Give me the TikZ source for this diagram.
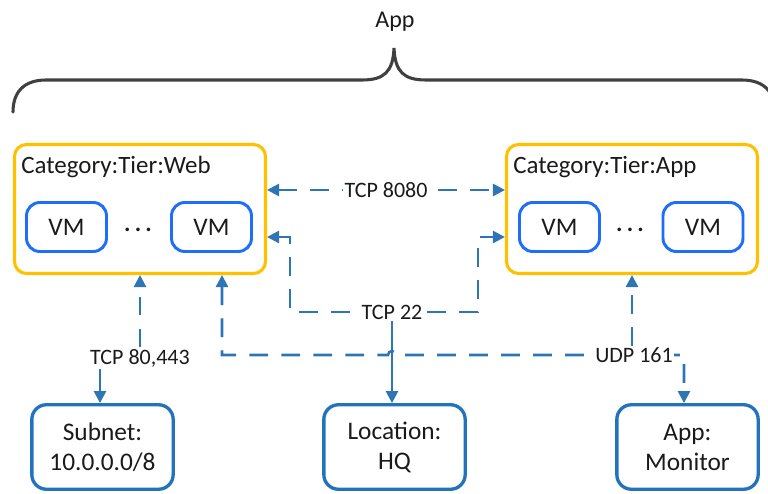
\documentclass[tikz,border=0pt]{standalone}
\usepackage{fontspec}
\setmainfont{Carlito}
\usetikzlibrary{arrows.meta}
\definecolor{tieryellow}{HTML}{FFC000}
\definecolor{vmblue}{HTML}{1E6EFA}
\definecolor{linkblue}{HTML}{2E75B6}
\definecolor{boxblue}{HTML}{2373BC}
\definecolor{ink}{HTML}{1A1A1A}
\definecolor{bracegray}{HTML}{404040}
\begin{document}
\begin{tikzpicture}[x=0.75pt,y=-0.75pt,
  >={Triangle[length=9pt,width=9pt]},
  tier/.style={draw=tieryellow, line width=2.3pt, rounded corners=9pt, minimum width=188.25pt, minimum height=96.75pt},
  tiertitle/.style={anchor=west, inner sep=0pt, font=\fontsize{18.7}{22}\selectfont, text=ink},
  vmbox/.style={draw=vmblue, line width=2.2pt, rounded corners=10pt, minimum width=60pt, minimum height=36.75pt, font=\fontsize{19}{22}\selectfont, text=ink},
  dotsnode/.style={inner sep=0pt, font=\bfseries\fontsize{18}{22}\selectfont, text=ink},
  endbox/.style={draw=boxblue, line width=2.5pt, rounded corners=11pt, minimum width=106pt, minimum height=63.4pt, align=center, font=\fontsize{19}{22.5}\selectfont, text=ink},
  conn/.style={draw=linkblue, line width=1.9pt, dash pattern=on 14pt off 10pt},
  solidlink/.style={draw=linkblue, line width=1.9pt},
  lbl/.style={fill=white, inner sep=1.2pt, font=\fontsize{16.5}{18}\selectfont, text=ink},
  bracestyle/.style={draw=bracegray, line width=2.3pt, line cap=round}
]
\useasboundingbox (0,0) rectangle (768,493);
\clip (0,0) rectangle (768,493);

% title and brace
\node[font=\fontsize{18}{22}\selectfont, text=ink] (title) at (395,22) {App};
\draw[bracestyle] (13,112) .. controls (13,92) and (24,80) .. (46,80) -- (362,80)
  .. controls (384,80) and (393,72) .. (394,48)
  .. controls (395,72) and (404,80) .. (426,80) -- (742,80)
  .. controls (764,80) and (775,92) .. (775,112);

% tiers
\node[tier] (web) at (140,209) {};
\node[tiertitle] (webt) at (21,167) {Category:Tier:Web};
\node[vmbox] (vm1) at (66.5,227) {VM};
\node[vmbox] (vm2) at (211.5,227) {VM};
\node[dotsnode] (dots1) at (138,230) {.\hspace{3.2pt}.\hspace{3.2pt}.};

\node[tier] (app) at (632,209) {};
\node[tiertitle] (appt) at (513,167) {Category:Tier:App};
\node[vmbox] (vm3) at (559.5,227) {VM};
\node[vmbox] (vm4) at (703,227) {VM};
\node[dotsnode] (dots2) at (630,230) {.\hspace{3.2pt}.\hspace{3.2pt}.};

% endpoints
\node[endbox] (sub) at (102.5,447) {Subnet:\\10.0.0.0/8};
\node[endbox] (loc) at (394.5,447) {Location:\\HQ};
\node[endbox] (mon) at (687.5,447) {App:\\Monitor};

% TCP 8080
\draw[conn,<->] (web.east |- 0,190) -- node[lbl] (t8080) {TCP 8080} (app.west |- 0,190);

% TCP 22
\draw[conn,<->] (web.east |- 0,237) -- (290,237) -- (290,312) -- (478,312) -- (478,237) -- (app.west |- 0,237);
\node[lbl] (t22) at (392,312) {TCP 22};

% UDP 161
\draw[conn,<->] (web.south -| 222,0) -- (222,355) -- (388,355)
  arc[start angle=180, end angle=360, radius=4] -- (684,355) -- (mon.north -| 684,0);
\node[lbl] (udp) at (634,355) {UDP 161};
\draw[conn,->] (udp.north -| 632,0) -- (app.south -| 632,0);

\draw[solidlink,->] (t22.south) -- (t22.south |- loc.north);

% TCP 80,443
\node[lbl] (t80) at (140,358) {TCP 80,443};
\draw[conn,->] (t80.north) -- (t80.north |- web.south);
\draw[solidlink,->] (t80.south -| 100,0) -- (sub.north -| 100,0);
\end{tikzpicture}
\end{document}
